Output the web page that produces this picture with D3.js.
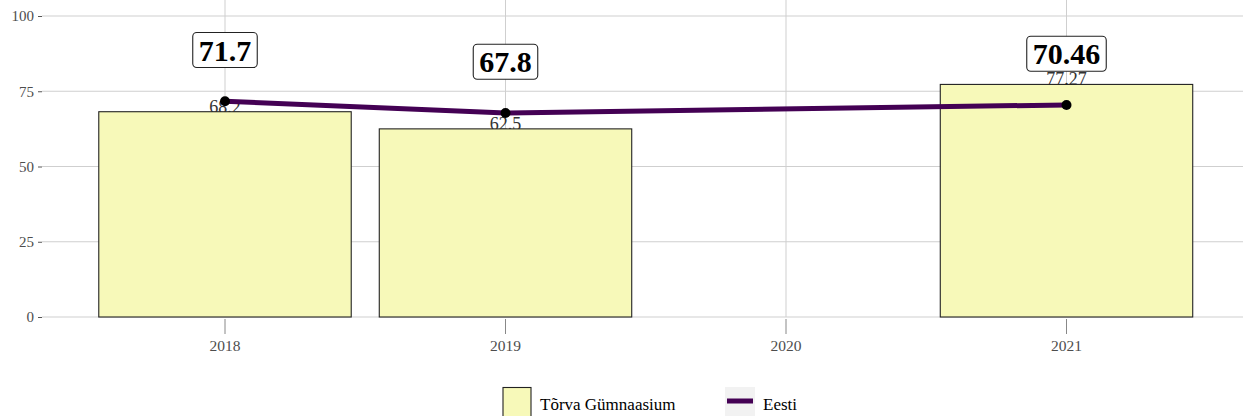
<!DOCTYPE html>
<html>
<head>
<meta charset="utf-8">
<script src="https://cdn.jsdelivr.net/npm/d3@7"></script>
<style>
  html, body { margin: 0; padding: 0; background: #fff; }
  svg { display: block; }
</style>
</head>
<body>
<svg id="chart" width="1243" height="416"></svg>
<script>
// School results per year (bars) and the national average (line)
const years = ["2018", "2019", "2020", "2021"];
const schoolValues = [68.2, 62.5, null, 77.27];
const nationalValues = [71.7, 67.8, null, 70.46];
const yTicks = [0, 25, 50, 75, 100];
const schoolName = "Tõrva Gümnaasium";
const nationalName = "Eesti";

const svg = d3.select("#chart");
const panel = { left: 42, right: 1243, top: 16, bottom: 317 };

const serif = "'Liberation Serif', 'Times New Roman', serif";
const barFill = "#f7f9b9";
const lineColor = "#440154";
const gridColor = "#cfcfcf";

const x = d3.scaleBand()
  .domain(years)
  .range([84.75, 1206.75])
  .paddingInner(0).paddingOuter(0);
const y = d3.scaleLinear().domain([0, 100]).range([panel.bottom, panel.top]);
const cx = d => x(d) + x.bandwidth() / 2;
const barW = x.bandwidth() * 0.9;

// grid
const grid = svg.append("g");
grid.selectAll("line.h").data(yTicks).join("line")
  .attr("x1", panel.left).attr("x2", panel.right)
  .attr("y1", d => y(d)).attr("y2", d => y(d))
  .attr("stroke", gridColor).attr("stroke-width", 1);
grid.selectAll("line.v").data(years).join("line")
  .attr("x1", d => cx(d)).attr("x2", d => cx(d))
  .attr("y1", 0).attr("y2", panel.bottom)
  .attr("stroke", gridColor).attr("stroke-width", 1);

// y axis
const yAxis = svg.append("g").attr("transform", `translate(${panel.left},0)`)
  .call(d3.axisLeft(y).tickValues(yTicks).tickSize(4).tickPadding(4));
yAxis.select(".domain").remove();
yAxis.selectAll(".tick line").attr("stroke", "#555");
yAxis.selectAll(".tick text")
  .style("font-family", serif).style("font-size", "15px").attr("fill", "#4d4d4d");

// x axis
const xAxis = svg.append("g").attr("transform", `translate(0,${panel.bottom + 2})`)
  .call(d3.axisBottom(x).tickSize(15).tickPadding(6));
xAxis.select(".domain").remove();
xAxis.selectAll(".tick line").attr("stroke", "#888");
xAxis.selectAll(".tick text")
  .style("font-family", serif).style("font-size", "15.5px").attr("fill", "#4d4d4d");

const schoolData = years.map((yr, i) => ({ yr, v: schoolValues[i] })).filter(d => d.v != null);
const natData = years.map((yr, i) => ({ yr, v: nationalValues[i] })).filter(d => d.v != null);

// value labels of the bars (sit underneath the bars)
svg.append("g").selectAll("text").data(schoolData).join("text")
  .attr("x", d => cx(d.yr)).attr("y", d => y(d.v) + 1)
  .attr("text-anchor", "middle")
  .style("font-family", serif).style("font-size", "18px").attr("fill", "#333")
  .text(d => d.v);

// bars
svg.append("g").selectAll("rect").data(schoolData).join("rect")
  .attr("x", d => cx(d.yr) - barW / 2).attr("width", barW)
  .attr("y", d => y(d.v)).attr("height", d => y(0) - y(d.v))
  .attr("fill", barFill).attr("stroke", "#222").attr("stroke-width", 1.1);

// national line
svg.append("path").datum(natData)
  .attr("d", d3.line().x(d => cx(d.yr)).y(d => y(d.v)))
  .attr("fill", "none").attr("stroke", lineColor).attr("stroke-width", 5);
svg.append("g").selectAll("circle").data(natData).join("circle")
  .attr("cx", d => cx(d.yr)).attr("cy", d => y(d.v)).attr("r", 5)
  .attr("fill", "#000");

// national value labels in boxes
const lab = svg.append("g").selectAll("g").data(natData).join("g")
  .attr("transform", d => `translate(${cx(d.yr)},${y(d.v + 17)})`);
lab.append("rect");
lab.append("text")
  .attr("text-anchor", "middle").attr("dy", "0.35em")
  .style("font-family", serif).style("font-weight", "bold").style("font-size", "30px")
  .attr("fill", "#000")
  .text(d => d.v);
lab.each(function () {
  const g = d3.select(this);
  const bb = g.select("text").node().getBBox();
  const padX = 6;
  g.select("rect")
    .attr("x", bb.x - padX).attr("y", -17.5)
    .attr("width", bb.width + 2 * padX).attr("height", 35)
    .attr("rx", 4).attr("ry", 4)
    .attr("fill", "#fff").attr("stroke", "#222").attr("stroke-width", 1.1);
});

// legend
const leg = svg.append("g");
leg.append("rect").attr("x", 503).attr("y", 387.5).attr("width", 28).attr("height", 30)
  .attr("fill", barFill).attr("stroke", "#222").attr("stroke-width", 1.1);
leg.append("text").attr("x", 540).attr("y", 410)
  .style("font-family", serif).style("font-size", "17px").attr("fill", "#000")
  .text(schoolName);
leg.append("rect").attr("x", 725).attr("y", 387).attr("width", 30).attr("height", 29)
  .attr("fill", "#f2f2f2");
leg.append("line").attr("x1", 727).attr("x2", 753).attr("y1", 401).attr("y2", 401)
  .attr("stroke", lineColor).attr("stroke-width", 5);
leg.append("text").attr("x", 763).attr("y", 410)
  .style("font-family", serif).style("font-size", "17px").attr("fill", "#000")
  .text(nationalName);
</script>
</body>
</html>
